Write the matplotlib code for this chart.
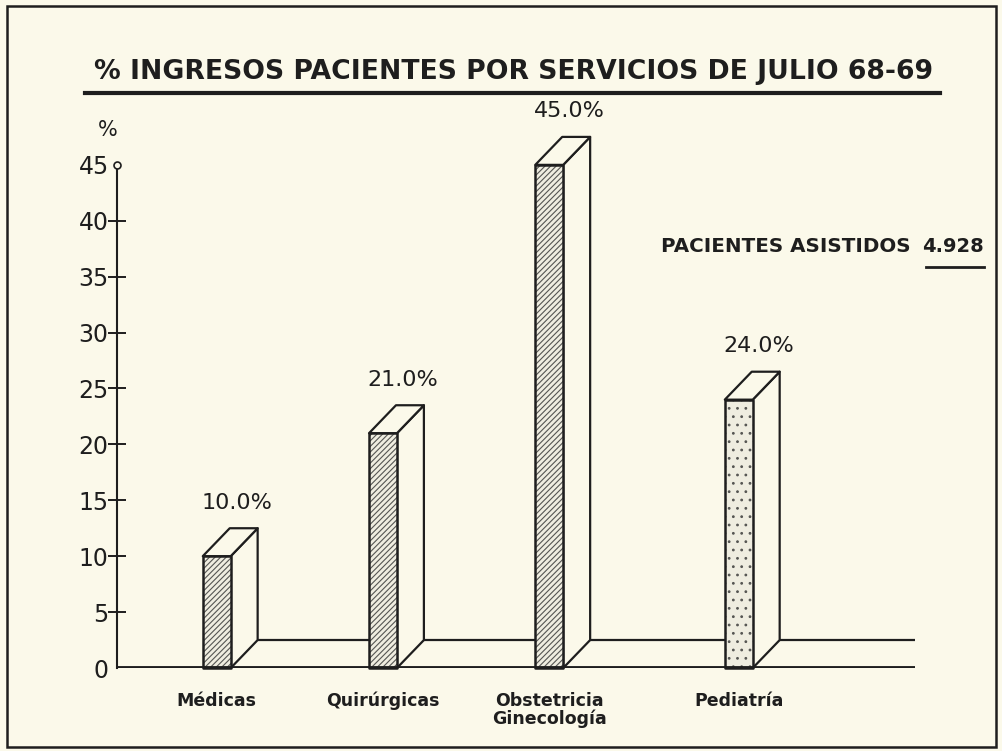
import matplotlib.pyplot as plt
from matplotlib.patches import Polygon, Rectangle
from matplotlib.lines import Line2D

# datos
servicios = ["Médicas", "Quirúrgicas", "Obstetricia\nGinecología", "Pediatría"]
porcentajes = [10.0, 21.0, 45.0, 24.0]
posiciones = [0, 1, 2, 3.14]
rellenos = ["//////", "//////", "//////", ".."]
yticks = [0, 5, 10, 15, 20, 25, 30, 35, 40, 45]
total_pacientes = "4.928"

fondo = "#fbf9ea"
tinta = "#1e1e1e"

plt.rcParams["font.family"] = ["DejaVu Sans"]
plt.rcParams["hatch.linewidth"] = 0.8

fig = plt.figure(figsize=(10.03, 7.51), dpi=100)
fig.patch.set_facecolor(fondo)

ax = fig.add_axes([117 / 1003, 83 / 751, 798 / 1003, 525.5 / 751])
ax.set_facecolor("none")
ax.set_xlim(-0.6, 4.2)
ax.set_ylim(0, 47)

ancho = 0.168   # frente de la barra
dx = 0.162      # profundidad en x
dy = 2.5        # profundidad en y

# linea del fondo (suelo)
ax.plot([posiciones[0] + ancho / 2 + dx, 4.2], [dy, dy], color=tinta, lw=1.6, zorder=1,
        solid_capstyle="butt")

for x, v, h in zip(posiciones, porcentajes, rellenos):
    x0 = x - ancho / 2
    x1 = x + ancho / 2
    frente = [(x0, 0), (x1, 0), (x1, v), (x0, v)]
    lado = [(x1, 0), (x1 + dx, dy), (x1 + dx, v + dy), (x1, v)]
    tapa = [(x0, v), (x1, v), (x1 + dx, v + dy), (x0 + dx, v + dy)]
    for pts in (lado, tapa):
        ax.add_patch(Polygon(pts, closed=True, facecolor=fondo, edgecolor=tinta,
                             lw=1.6, joinstyle="round", zorder=3, clip_on=False))
    # sombreado del frente
    ax.add_patch(Polygon(frente, closed=True, facecolor="#efede0", edgecolor="#555552",
                         lw=0, hatch=h, zorder=3, clip_on=False))
    ax.add_patch(Polygon(frente, closed=True, facecolor="none", edgecolor=tinta,
                         lw=1.8, joinstyle="round", zorder=4, clip_on=False))
    ax.text(x + dx * 0.75, v + 4.8, f"{v:.1f}%", ha="center", va="center",
            fontsize=16, color=tinta, clip_on=False)

# ejes
for s in ("top", "right", "bottom"):
    ax.spines[s].set_visible(False)
ax.spines["left"].set_bounds(0, 45)
ax.spines["left"].set_linewidth(1.5)
ax.spines["left"].set_color(tinta)
ax.axhline(0, color=tinta, lw=3.5, zorder=5, solid_capstyle="butt")

ax.set_yticks(yticks)
ax.set_yticklabels([str(t) for t in yticks], fontsize=17, color=tinta)
ax.tick_params(axis="y", direction="inout", length=13, width=1.4, color=tinta, pad=-0.5)
for t in ax.yaxis.get_major_ticks():
    if t.get_loc() in (0, 45):
        t.tick1line.set_visible(False)
ax.plot([-0.6], [45], marker="o", ms=5, mfc=fondo, mec=tinta, mew=1.2, clip_on=False, zorder=6)
ax.text(-0.655, 48.1, "%", ha="center", va="center", fontsize=15, color=tinta, clip_on=False)

ax.set_xticks(posiciones)
ax.set_xticklabels(servicios, fontsize=12.5, fontweight="bold", color=tinta,
                   linespacing=1.0, va="top")
ax.tick_params(axis="x", length=0, pad=17)

# titulo
fig.text(0.512, 1 - 72 / 751, "% INGRESOS PACIENTES POR SERVICIOS DE JULIO 68-69",
         ha="center", va="center", fontsize=19.2, fontweight="bold", color=tinta)
fig.add_artist(Line2D([85 / 1003, 940 / 1003], [1 - 93 / 751, 1 - 93 / 751],
                      color=tinta, lw=3.0))

fig.text(911 / 1003, 1 - 246 / 751, "PACIENTES ASISTIDOS", ha="right", va="center",
         fontsize=14.3, fontweight="bold", color=tinta)
fig.text(984 / 1003, 1 - 246 / 751, total_pacientes, ha="right", va="center",
         fontsize=14.0, fontweight="bold", color=tinta)
fig.add_artist(Line2D([926 / 1003, 984 / 1003], [1 - 267 / 751, 1 - 267 / 751],
                      color=tinta, lw=2.0))

# marco
fig.add_artist(Rectangle((7 / 1003, 4 / 751), 989 / 1003, 741 / 751, fill=False,
                         edgecolor=tinta, lw=1.8, transform=fig.transFigure))

fig.savefig("out.png", dpi=100, facecolor=fondo)
